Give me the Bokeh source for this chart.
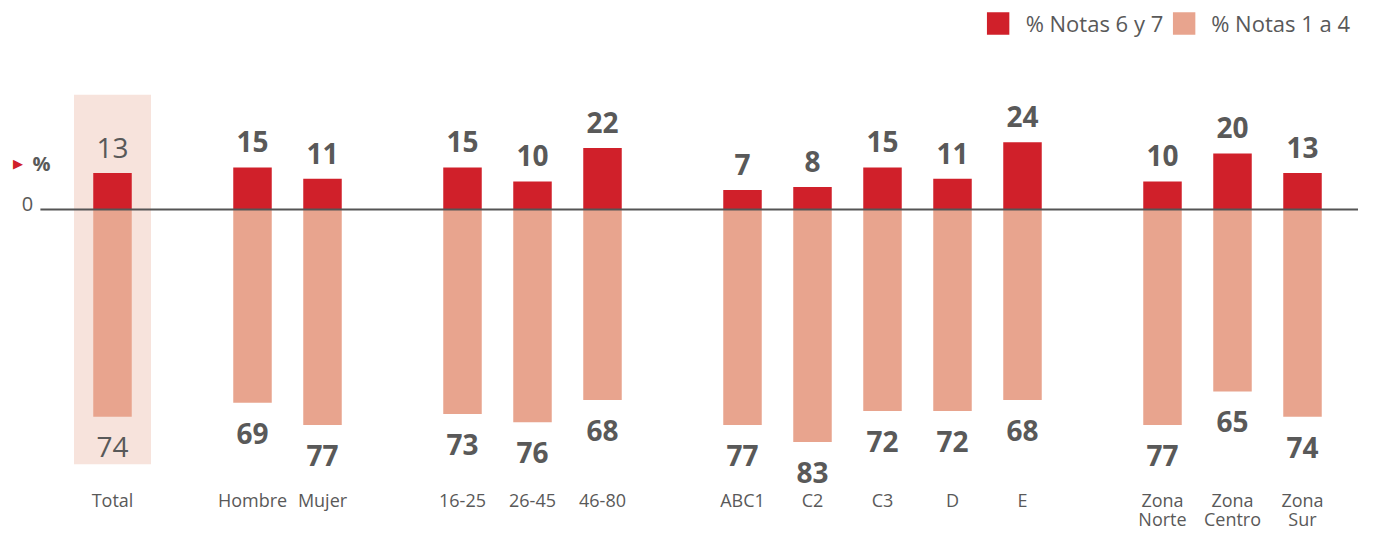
from bokeh.plotting import figure
from bokeh.models import Range1d, Label, Legend, LegendItem, ColumnDataSource
from bokeh.core.properties import value
from bokeh.embed import file_html
from bokeh.resources import INLINE

# ---------------- data ----------------
groups = ["Total", "Sexo", "Sexo", "Edad", "Edad", "Edad",
          "GSE", "GSE", "GSE", "GSE", "GSE", "Zona", "Zona", "Zona"]
categories = ["Total", "Hombre", "Mujer", "16-25", "26-45", "46-80",
              "ABC1", "C2", "C3", "D", "E", "Zona Norte", "Zona Centro", "Zona Sur"]
pct_notas_6_7 = [13, 15, 11, 15, 10, 22, 7, 8, 15, 11, 24, 10, 20, 13]
pct_notas_1_4 = [74, 69, 77, 73, 76, 68, 77, 83, 72, 72, 68, 77, 65, 74]
legend_labels = ["% Notas 6 y 7", "% Notas 1 a 4"]

# ---------------- style ----------------
RED = "#d0202a"
PINK = "#e8a48e"
HIGHLIGHT = "#f7e3dc"
TEXT = "#595959"
LINE = "#555555"
FONT = "Open Sans"
GROUP_GAP = 1.0          # extra slot between groups
BAR_W = 0.55
LINE_START = -1.03       # zero line starts a bit left of the first group
LAB1_Y, LAB2_Y = -103.9, -110.7

# positions: one slot per category, plus a gap between groups
order = []
for g in groups:
    if g not in order:
        order.append(g)
xs = [i + GROUP_GAP * order.index(g) for i, g in enumerate(groups)]

line1 = [c.split(" ")[0] if c.startswith("Zona") else c for c in categories]
line2 = [c.split(" ", 1)[1] if c.startswith("Zona") else "" for c in categories]

src = ColumnDataSource(dict(
    x=xs,
    pos=pct_notas_6_7,
    neg=[-v for v in pct_notas_1_4],
    pos_txt=[str(v) for v in pct_notas_6_7],
    neg_txt=[str(v) for v in pct_notas_1_4],
    l1=line1, l2=line2,
    l1y=[LAB1_Y] * len(xs), l2y=[LAB2_Y] * len(xs),
    weight=["normal" if g == "Total" else "bold" for g in groups],
))

p = figure(x_range=Range1d(-1.6, 17.8), y_range=Range1d(-115.36, 74.64),
           width=1358, height=532, output_backend="svg", toolbar_location=None,
           min_border_left=0, min_border_right=0, min_border_top=0, min_border_bottom=0)
p.axis.visible = False
p.grid.visible = False
p.outline_line_color = None
p.background_fill_color = "white"

# highlight behind Total
hl = ColumnDataSource(dict(x=[xs[0]], top=[pct_notas_6_7[0] + 28],
                           bottom=[-(pct_notas_1_4[0] + 17)]))
p.vbar(x="x", top="top", bottom="bottom", width=2 * BAR_W, source=hl,
       fill_color=HIGHLIGHT, line_color=None, level="underlay")

r_pos = p.vbar(x="x", top="pos", bottom=0, width=BAR_W, source=src,
               fill_color=RED, line_color=None)
r_neg = p.vbar(x="x", top=0, bottom="neg", width=BAR_W, source=src,
               fill_color=PINK, line_color=None)

# zero line
p.segment(x0=LINE_START, y0=0, x1=p.x_range.end, y1=0, line_color=LINE, line_width=2)

p.text(x="x", y="pos", text="pos_txt", source=src, text_align="center",
       text_baseline="bottom", y_offset=-15, text_font=value(FONT),
       text_font_size="28px", text_font_style="weight", text_color=TEXT)
p.text(x="x", y="neg", text="neg_txt", source=src, text_align="center",
       text_baseline="top", y_offset=20, text_font=value(FONT),
       text_font_size="28px", text_font_style="weight", text_color=TEXT)
p.text(x="x", y="l1y", text="l1", source=src, text_align="center",
       text_baseline="middle", text_font=value(FONT), text_font_size="18px",
       text_color=TEXT)
p.text(x="x", y="l2y", text="l2", source=src, text_align="center",
       text_baseline="middle", text_font=value(FONT), text_font_size="18px",
       text_color=TEXT)

p.add_layout(Label(x=27, x_units="screen", y=2.1, text="0", text_align="center",
                   text_baseline="middle", text_font=FONT, text_font_size="20px",
                   text_color=TEXT))
p.add_layout(Label(x=17.5, x_units="screen", y=16.4, text="\u25B6", text_align="center",
                   text_baseline="middle", text_font="DejaVu Sans", text_font_size="13px",
                   text_color=RED))
p.add_layout(Label(x=41, x_units="screen", y=16.4, text="%", text_align="center",
                   text_baseline="middle", text_font=FONT, text_font_size="20px",
                   text_font_style="bold", text_color=TEXT))

legend = Legend(items=[LegendItem(label=legend_labels[0], renderers=[r_pos]),
                       LegendItem(label=legend_labels[1], renderers=[r_neg])],
                location="top_right", orientation="horizontal",
                label_text_font=FONT, label_text_font_size="22px", label_text_color=TEXT,
                glyph_width=28, glyph_height=28, spacing=6, label_standoff=14,
                padding=0, margin=8, border_line_color=None, background_fill_alpha=0)
p.add_layout(legend)

open("out.html", "w").write(file_html(p, INLINE))
